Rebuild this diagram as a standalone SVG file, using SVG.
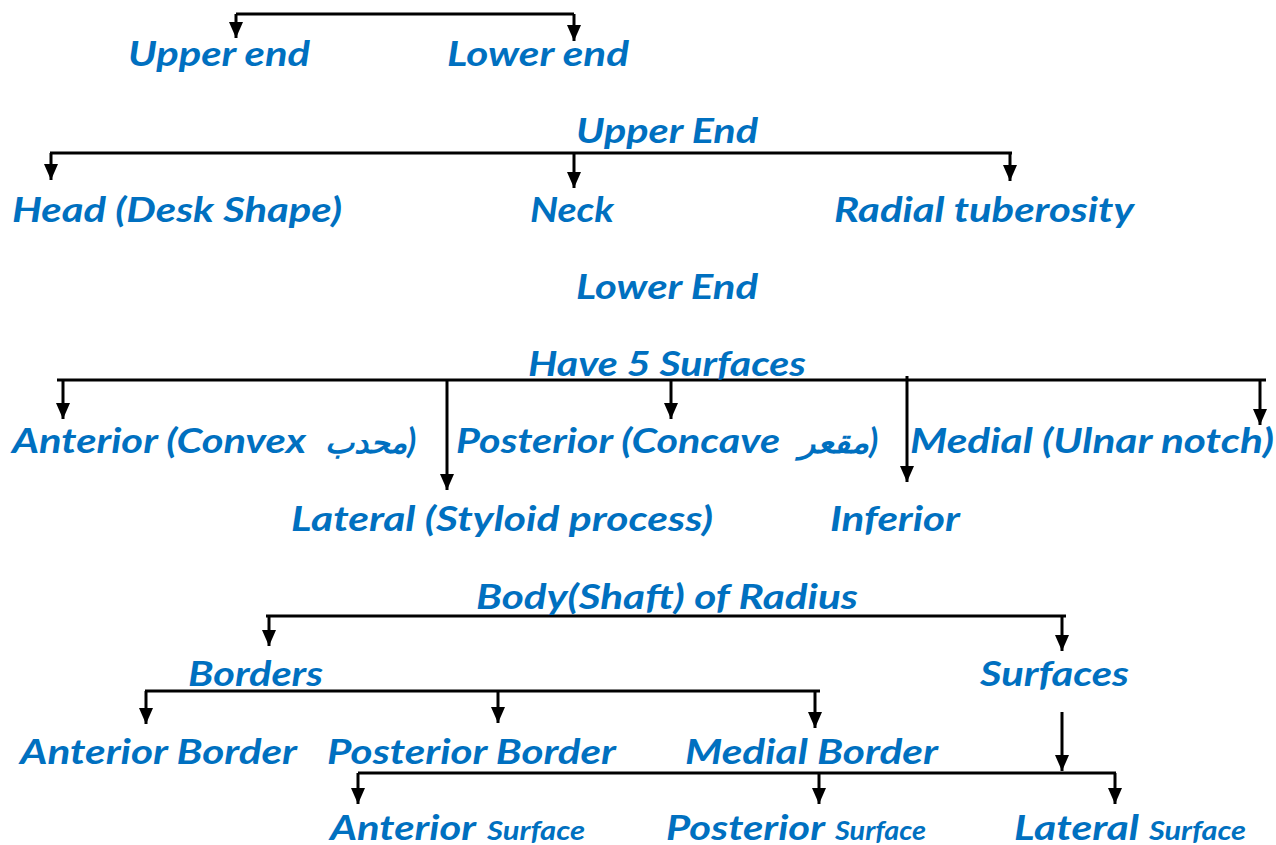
<svg xmlns="http://www.w3.org/2000/svg" width="1276" height="845" viewBox="0 0 1276 845">
<style>
.t{font-family:Lato,"Open Sans","DejaVu Sans",sans-serif;font-weight:bold;font-style:italic;font-size:35px;fill:#0070C0}
.s{font-size:26px}
.ab{font-family:"DejaVu Sans","Noto Sans",sans-serif;font-size:30px}
.ln{stroke:#000;stroke-width:3;fill:none}
.ar{stroke:#000;stroke-width:3;fill:none;marker-end:url(#ah)}
</style>
<defs>
<marker id="ah" markerUnits="userSpaceOnUse" viewBox="0 0 16 14" markerWidth="16" markerHeight="14" refX="16" refY="7" orient="auto">
<path d="M0,0 L16,7 L0,14 z" fill="#000"/>
</marker>
</defs>
<rect width="1276" height="845" fill="#fff"/>
<g id="connectors">
<path class="ln" d="M236,14 H574"/>
<path class="ar" d="M236,14 V38"/>
<path class="ar" d="M574,14 V41"/>
<path class="ln" d="M50,153 H1012"/>
<path class="ar" d="M51,153 V180"/>
<path class="ar" d="M574,153 V188"/>
<path class="ar" d="M1010,153 V181"/>
<path class="ln" d="M57,380 H1266"/>
<path class="ar" d="M63,380 V419"/>
<path class="ar" d="M447,380 V490"/>
<path class="ar" d="M671,380 V419"/>
<path class="ar" d="M907,376 V482"/>
<path class="ar" d="M1260,380 V425"/>
<path class="ln" d="M266,616 H1066"/>
<path class="ar" d="M269,616 V646"/>
<path class="ar" d="M1062,616 V651"/>
<path class="ln" d="M145,691 H820"/>
<path class="ar" d="M146,691 V724"/>
<path class="ar" d="M498,691 V723"/>
<path class="ar" d="M815,691 V728"/>
<path class="ar" d="M1062,712 V771"/>
<path class="ln" d="M358,773 H1116"/>
<path class="ar" d="M358,773 V804"/>
<path class="ar" d="M819,773 V804"/>
<path class="ar" d="M1115,773 V804"/>
</g>
<g id="upper-end-top"><text class="t" x="128" y="66" textLength="182" lengthAdjust="spacingAndGlyphs">Upper end</text></g>
<g id="lower-end-top"><text class="t" x="447" y="66" textLength="182" lengthAdjust="spacingAndGlyphs">Lower end</text></g>
<g id="upper-end"><text class="t" x="576" y="143" textLength="182" lengthAdjust="spacingAndGlyphs">Upper End</text></g>
<g id="head"><text class="t" x="12" y="222" textLength="330" lengthAdjust="spacingAndGlyphs">Head (Desk Shape)</text></g>
<g id="neck"><text class="t" x="530" y="222" textLength="84" lengthAdjust="spacingAndGlyphs">Neck</text></g>
<g id="radial-tuberosity"><text class="t" x="834" y="222" textLength="300" lengthAdjust="spacingAndGlyphs">Radial tuberosity</text></g>
<g id="lower-end"><text class="t" x="576" y="299" textLength="182" lengthAdjust="spacingAndGlyphs">Lower End</text></g>
<g id="have-5-surfaces"><text class="t" x="528" y="376" textLength="278" lengthAdjust="spacingAndGlyphs">Have 5 Surfaces</text></g>
<g id="anterior">
<text class="t" x="12" y="453" textLength="294" lengthAdjust="spacingAndGlyphs">Anterior (Convex</text>
<text class="t ab" x="325" y="453" textLength="82" lengthAdjust="spacingAndGlyphs">محدب</text>
<text class="t" x="407" y="453">)</text>
</g>
<g id="posterior">
<text class="t" x="456" y="453" textLength="324" lengthAdjust="spacingAndGlyphs">Posterior (Concave</text>
<text class="t ab" x="799" y="453" textLength="70" lengthAdjust="spacingAndGlyphs">مقعر</text>
<text class="t" x="869" y="453">)</text>
</g>
<g id="medial"><text class="t" x="910" y="453" textLength="364" lengthAdjust="spacingAndGlyphs">Medial (Ulnar notch)</text></g>
<g id="lateral"><text class="t" x="291" y="531" textLength="422" lengthAdjust="spacingAndGlyphs">Lateral (Styloid process)</text></g>
<g id="inferior"><text class="t" x="830" y="531" textLength="130" lengthAdjust="spacingAndGlyphs">Inferior</text></g>
<g id="body"><text class="t" x="476" y="609" textLength="382" lengthAdjust="spacingAndGlyphs">Body(Shaft) of Radius</text></g>
<g id="borders"><text class="t" x="188" y="686" textLength="135" lengthAdjust="spacingAndGlyphs">Borders</text></g>
<g id="surfaces"><text class="t" x="980" y="686" textLength="149" lengthAdjust="spacingAndGlyphs">Surfaces</text></g>
<g id="anterior-border"><text class="t" x="20" y="764" textLength="277" lengthAdjust="spacingAndGlyphs">Anterior Border</text></g>
<g id="posterior-border"><text class="t" x="327" y="764" textLength="289" lengthAdjust="spacingAndGlyphs">Posterior Border</text></g>
<g id="medial-border"><text class="t" x="685" y="764" textLength="253" lengthAdjust="spacingAndGlyphs">Medial Border</text></g>
<g id="anterior-surface"><text class="t" y="840"><tspan x="330" textLength="146" lengthAdjust="spacingAndGlyphs">Anterior</tspan><tspan class="s" x="487" textLength="98" lengthAdjust="spacingAndGlyphs">Surface</tspan></text></g>
<g id="posterior-surface"><text class="t" y="840"><tspan x="666" textLength="159" lengthAdjust="spacingAndGlyphs">Posterior</tspan><tspan class="s" x="835" textLength="91" lengthAdjust="spacingAndGlyphs">Surface</tspan></text></g>
<g id="lateral-surface"><text class="t" y="840"><tspan x="1014" textLength="125" lengthAdjust="spacingAndGlyphs">Lateral</tspan><tspan class="s" x="1149" textLength="97" lengthAdjust="spacingAndGlyphs">Surface</tspan></text></g>
</svg>
